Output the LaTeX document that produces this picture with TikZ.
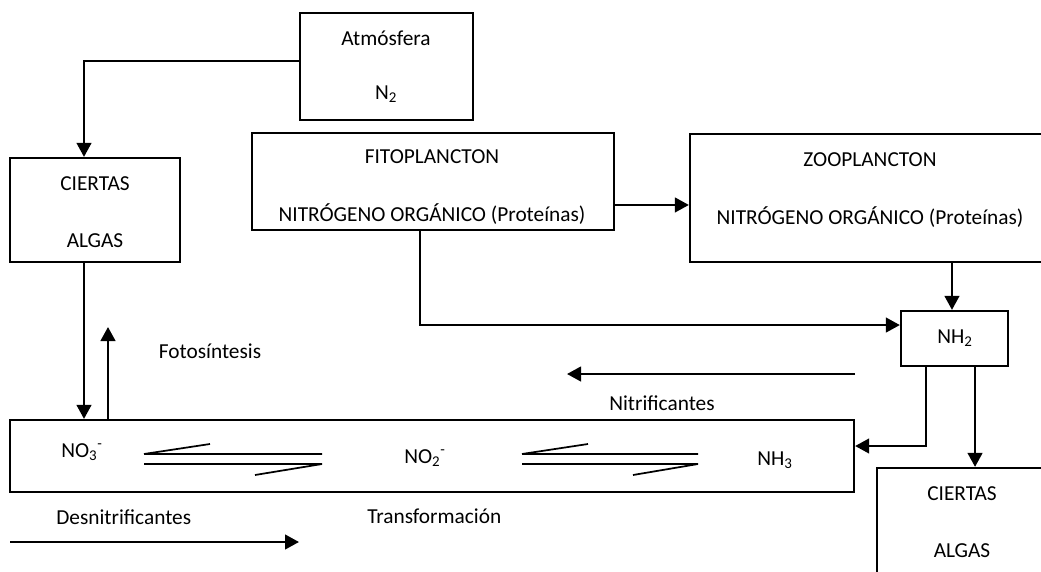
\documentclass[tikz,border=0pt]{standalone}
\usepackage{fontspec}
\setmainfont{Carlito}
\usetikzlibrary{arrows.meta}

\tikzset{
  box/.style={draw, line width=1.7pt, inner sep=0pt},
  lbl/.style={font=\fontsize{16}{19}\selectfont, inner sep=0pt, anchor=base},
  lblw/.style={lbl, anchor=base west},
  arr/.style={line width=1.7pt, -{Triangle[length=10.5pt,width=11pt]}},
  harp/.style={line width=1.3pt, line cap=butt}
}

\begin{document}
\begin{tikzpicture}[x=0.75pt, y=-0.75pt]
\useasboundingbox (0,0) rectangle (1041,571);
\clip (0,0) rectangle (1041,571);

% boxes
\node[box, minimum width=129.75pt, minimum height=80.25pt] (atm)  at (386.5,66.5) {};
\node[box, minimum width=127.5pt,  minimum height=78pt]    (alg1) at (95,210) {};
\node[box, minimum width=271.5pt,  minimum height=72.75pt] (fito) at (433,181.5) {};
\node[box, minimum width=277.5pt,  minimum height=96pt]    (zoo)  at (875,198) {};
\node[box, minimum width=80.25pt,  minimum height=41.25pt] (nh2)  at (954.5,338.5) {};
\node[box, minimum width=633pt,    minimum height=54pt]    (eq)   at (432,456) {};
\node[box, minimum width=152.25pt, minimum height=114pt]   (alg2) at (978.5,544) {};

% texts inside the boxes
\node[lbl] (tatm)  at (386,45)  {Atmósfera};
\node[lbl] (tn2)   at (386,99)  {N\textsubscript{2}};
\node[lbl] (tca1)  at (95,190)  {CIERTAS};
\node[lbl] (tal1)  at (95,247)  {ALGAS};
\node[lbl] (tfito) at (432,163) {FITOPLANCTON};
\node[lbl] (tno1)  at (432,221) {NITRÓGENO ORGÁNICO (Proteínas)};
\node[lbl] (tzoo)  at (870,166) {ZOOPLANCTON};
\node[lbl] (tno2)  at (870,224) {NITRÓGENO ORGÁNICO (Proteínas)};
\node[lbl] (tnh2)  at (955,343) {NH\textsubscript{2}};
\node[lbl] (tca2)  at (962,500) {CIERTAS};
\node[lbl] (tal2)  at (962,557) {ALGAS};
\node[lblw] (tno3) at (61,457)  {NO\textsubscript{3}\textsuperscript{-}};
\node[lblw] (tno2m) at (404,463) {NO\textsubscript{2}\textsuperscript{-}};
\node[lblw] (tnh3) at (757,465) {NH\textsubscript{3}};

% free labels
\node[lbl]  (tfoto) at (210,358) {Fotosíntesis};
\node[lbl]  (tnit)  at (662,410) {Nitrificantes};
\node[lblw] (tden)  at (56,524)  {Desnitrificantes};
\node[lblw] (ttra)  at (367,523) {Transformación};

% equilibrium harpoons
\draw[harp] (144,454) -- (322,454) (144,454) -- (210,444)
            (144,464) -- (322,464) (322,464) -- (255,475);
\draw[harp] (522,454) -- (698,454) (522,454) -- (588,444)
            (522,464) -- (698,464) (698,464) -- (633,475);

% connectors
\draw[arr] ([yshift=4.1pt]atm.west) -| ([xshift=-8.25pt]alg1.north);
\coordinate (a1s) at ([xshift=-8.25pt]alg1.south);
\draw[arr] (a1s) -- (a1s |- eq.north);
\coordinate (fotoTip) at (108,327);
\draw[arr] (fotoTip |- eq.north) -- (fotoTip);
\coordinate (f2z) at ([yshift=-17.6pt]fito.east);
\draw[arr] (f2z) -- (f2z -| zoo.west);
\coordinate (z2n) at ([xshift=-1.9pt]nh2.north);
\draw[arr] (z2n |- zoo.south) -- (z2n);
\draw[arr] ([xshift=-9.75pt]fito.south) |- ([yshift=10.1pt]nh2.west);
\draw[arr] ([xshift=-21.4pt]nh2.south) |- ([yshift=7.5pt]eq.east);
\coordinate (n2a) at ([xshift=15.4pt]nh2.south);
\draw[arr] (n2a) -- (n2a |- alg2.north);

% process arrows
\coordinate (nitA) at (855,374);
\coordinate (nitB) at (567,374);
\draw[arr] (nitA) -- (nitB);
\coordinate (denA) at (10,542);
\coordinate (denB) at (299,542);
\draw[arr] (denA) -- (denB);
\end{tikzpicture}
\end{document}
